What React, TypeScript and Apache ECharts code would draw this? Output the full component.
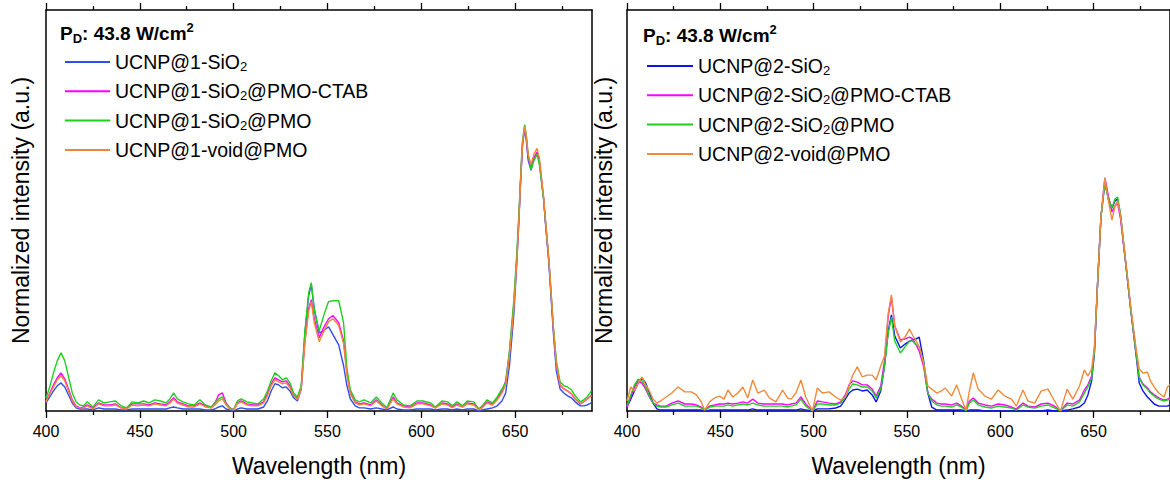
import React, { useEffect, useRef } from "react";
import * as echarts from "echarts";

const FONT = '"Liberation Sans", Arial, Helvetica, sans-serif';

// ---------- Left panel (UCNP@1) : wavelength grid (nm) ----------
const wl1 = [
  400, 402, 404, 406, 408, 410, 412, 414, 416, 418,
  420, 422, 425, 428, 431, 434, 437, 440, 443, 446,
  449, 452, 455, 458, 461, 464, 466, 468, 470, 473,
  476, 479, 482, 485, 488, 490, 492, 494, 496, 498,
  500, 502, 504, 507, 510, 513, 516, 518, 520, 522,
  524, 526, 528, 530, 532, 534, 536, 538, 540, 541.4,
  543, 545.6, 548, 550.6, 553, 556, 558.6, 560.4, 562.2, 564.8,
  567, 569.5, 573, 576, 579, 581.7, 585, 587, 590.5, 594,
  597.7, 601, 605, 607.5, 611, 614, 616.5, 619, 622, 624.5,
  628, 630.6, 632.5, 635, 638, 640.5, 643, 645, 647, 649.3,
  651, 652, 653.2, 654, 655.1, 656, 657, 658.5, 660, 661.7,
  663, 665.2, 666.1, 668, 670.4, 672, 674, 676, 678, 680,
  682, 684.8, 686.5, 688.4, 690.7,
];

// normalized intensity (% of the strongest peak)
const ucnp1SiO2 = [
  2.8, 4.9, 7.0, 8.8, 9.8, 8.4, 5.6, 2.8, 1.1, 0.7,
  0.7, 0.7, 0.4, 1.1, 0.7, 0.7, 0.7, 0.4, 0.4, 0.7,
  0.7, 0.7, 0.7, 0.7, 0.7, 0.7, 1.1, 1.4, 1.1, 0.7,
  0.7, 0.7, 0.7, 0.4, 0.4, 0.7, 1.4, 1.8, 0.7, 0.4,
  0.0, 0.7, 1.1, 0.7, 0.7, 0.7, 1.4, 3.5, 7.0, 9.5,
  9.1, 8.1, 8.4, 7.0, 4.6, 3.5, 7.7, 27.3, 40.3, 44.1,
  35.7, 27.3, 28.0, 29.4, 26.6, 23.1, 15.8, 8.8, 4.2, 1.8,
  1.1, 1.1, 0.7, 1.1, 0.7, 0.4, 1.4, 0.7, 0.4, 0.4,
  0.7, 0.7, 0.7, 0.4, 0.7, 0.7, 0.4, 0.7, 0.4, 0.7,
  0.7, 0.0, 0.4, 0.7, 1.1, 1.8, 3.5, 6.3, 15.8, 33.3,
  52.5, 65.8, 83.3, 92.8, 98.7, 94.5, 87.5, 84.0, 87.5, 90.3,
  86.8, 74.2, 66.5, 51.8, 27.3, 14.0, 7.7, 6.3, 5.3, 4.6,
  3.2, 1.8, 1.8, 2.1, 2.8,
];
const ucnp1SiO2PmoCtab = [
  3.5, 6.3, 9.1, 11.6, 13.3, 11.2, 7.7, 3.9, 1.8, 1.1,
  1.4, 2.1, 1.1, 2.8, 2.1, 2.1, 2.5, 1.1, 1.1, 2.5,
  2.5, 2.5, 2.1, 2.8, 2.5, 2.1, 3.2, 4.6, 3.2, 2.5,
  1.8, 1.8, 2.8, 1.8, 1.1, 2.8, 5.6, 6.3, 2.8, 1.1,
  0.4, 2.8, 3.5, 2.5, 2.1, 2.1, 3.2, 6.0, 9.5, 11.6,
  10.9, 10.2, 10.5, 8.8, 5.6, 4.2, 7.7, 24.5, 35.7, 38.9,
  32.2, 25.6, 29.1, 32.2, 33.3, 30.8, 24.5, 13.3, 6.3, 3.2,
  2.5, 2.8, 2.1, 3.9, 2.1, 0.7, 4.9, 2.8, 1.8, 1.4,
  2.8, 2.8, 2.1, 1.1, 2.8, 2.5, 1.4, 2.5, 1.4, 2.8,
  2.5, 0.7, 1.4, 3.2, 2.5, 4.2, 7.0, 10.5, 20.3, 36.8,
  54.3, 67.2, 84.0, 93.8, 98.7, 95.2, 88.2, 85.1, 88.2, 90.3,
  86.8, 74.2, 66.5, 52.5, 28.7, 16.1, 9.1, 7.7, 7.0, 6.0,
  4.2, 2.5, 3.2, 4.2, 5.6,
];
const ucnp1SiO2Pmo = [
  4.5, 8.4, 13.3, 17.5, 20.3, 17.5, 11.9, 6.3, 3.2, 2.1,
  1.8, 3.2, 1.4, 3.9, 2.8, 3.2, 3.5, 1.8, 1.1, 3.2,
  2.8, 3.5, 2.8, 3.9, 3.5, 2.8, 4.2, 6.3, 4.2, 3.2,
  2.5, 2.1, 3.9, 2.1, 1.4, 2.8, 4.2, 4.9, 2.5, 1.1,
  0.4, 3.5, 4.2, 3.2, 2.8, 2.5, 4.2, 7.0, 10.5, 13.3,
  12.3, 10.9, 11.6, 9.8, 6.3, 4.9, 8.8, 28.0, 41.3, 44.8,
  35.0, 28.0, 33.3, 38.2, 38.5, 38.5, 30.8, 14.7, 7.4, 3.9,
  3.2, 3.9, 2.8, 4.9, 2.8, 1.1, 6.3, 3.9, 2.1, 1.8,
  3.5, 3.5, 2.8, 1.4, 3.5, 3.2, 1.8, 3.2, 1.8, 3.5,
  3.2, 0.7, 1.8, 3.9, 2.8, 4.9, 7.7, 9.8, 21.0, 38.5,
  56.0, 68.3, 85.4, 94.5, 100, 96.2, 89.2, 84.3, 87.5, 89.6,
  85.8, 73.9, 66.9, 52.9, 29.4, 17.5, 10.2, 8.8, 8.4, 7.4,
  5.3, 3.2, 3.9, 4.9, 7.0,
];
const ucnp1VoidPmo = [
  3.2, 6.0, 8.4, 10.9, 12.3, 10.5, 7.0, 3.5, 1.4, 1.1,
  1.1, 1.8, 0.7, 2.5, 1.8, 1.8, 2.1, 1.1, 0.7, 2.1,
  1.8, 2.1, 1.8, 2.5, 2.1, 1.8, 2.8, 4.2, 2.8, 2.1,
  1.4, 1.4, 2.5, 1.4, 1.1, 2.1, 3.5, 4.2, 2.1, 0.7,
  0.4, 2.5, 3.2, 2.1, 1.8, 1.8, 2.8, 5.3, 8.8, 10.9,
  10.2, 9.5, 9.8, 8.1, 5.3, 3.9, 7.4, 23.8, 35.0, 38.2,
  30.8, 24.2, 27.7, 31.2, 32.2, 29.8, 23.5, 12.6, 6.0, 2.8,
  2.1, 2.5, 1.8, 3.5, 1.8, 0.7, 4.2, 2.5, 1.4, 1.1,
  2.5, 2.5, 1.8, 1.1, 2.5, 2.1, 1.1, 2.1, 1.4, 2.5,
  2.1, 0.4, 1.1, 2.8, 2.1, 3.9, 6.3, 9.1, 19.3, 35.7,
  53.2, 66.5, 84.0, 93.8, 99.4, 95.9, 89.6, 86.1, 89.6, 91.7,
  88.2, 74.9, 67.6, 53.2, 29.4, 16.5, 9.1, 7.7, 7.0, 6.0,
  4.2, 2.5, 3.2, 4.2, 5.3,
];

// ---------- Right panel (UCNP@2) : wavelength grid (nm) ----------
const wl2 = [
  400, 402, 404, 406, 408, 410, 412, 414, 416, 418,
  421, 424, 427.4, 431, 434.5, 437.2, 439.8, 441.6, 444.3, 446.9,
  449.6, 452, 454.1, 456.7, 459.4, 462.1, 464.7, 467.4, 470.1, 473.6,
  476.3, 479.8, 483.4, 486, 488, 490.5, 493.2, 495.8, 499.4, 502,
  504.7, 508.3, 511.8, 514.5, 517, 519, 521, 523.4, 526.1, 528.7,
  531.4, 533.5, 536, 538, 540, 541.7, 543.5, 546.5, 549, 551.4,
  553, 555, 556.6, 558.9, 560, 561.2, 563.3, 566, 568.5, 570.5,
  574, 576.7, 579.3, 581.7, 583.5, 585.6, 588.2, 591.8, 595.3, 598.9,
  602.5, 606, 608.7, 612.2, 614.9, 618.5, 622, 625.6, 629.1, 632.3,
  635.9, 638.9, 642.5, 645.1, 647, 649, 650.5, 652.2, 654, 656.1,
  658, 659.9, 661.5, 662.9, 664.5, 666.5, 668.3, 670, 672.7, 674.5,
  676.5, 678.9, 680.5, 682.5, 685, 687.8, 689.6, 691,
];
const ucnp2SiO2 = [
  1.7, 5.1, 8.6, 12.0, 14.2, 12.0, 7.7, 3.4, 0.9, 0.4,
  0.4, 0.4, 0.4, 0.4, 0.4, 0.4, 0.4, 0.0, 0.4, 0.4,
  0.4, 0.4, 0.4, 0.4, 0.4, 0.4, 0.4, 0.9, 0.4, 0.4,
  0.4, 0.4, 0.4, 0.4, 0.4, 0.4, 0.9, 0.4, 0.0, 0.9,
  0.9, 0.9, 1.3, 2.1, 5.1, 7.7, 9.0, 9.4, 8.6, 9.0,
  6.9, 3.9, 8.6, 19.3, 34.3, 41.2, 32.2, 27.0, 28.7, 30.0,
  30.5, 30.9, 31.7, 21.9, 15.0, 7.7, 1.7, 0.4, 0.4, 0.4,
  0.4, 0.4, 0.4, 0.0, 0.4, 0.4, 0.4, 0.0, 0.0, 0.0,
  0.0, 0.0, 0.0, 0.0, 0.0, 0.0, 0.0, 0.4, 0.0, 0.0,
  0.4, 0.9, 1.7, 3.4, 6.9, 12.9, 24.9, 54.9, 83.2, 97.8,
  90.9, 87.1, 90.1, 90.9, 83.7, 69.1, 55.8, 43.3, 24.9, 12.0,
  8.6, 6.0, 4.7, 3.0, 2.1, 2.1, 2.1, 2.6,
];
const ucnp2SiO2PmoCtab = [
  1.7, 6.0, 10.3, 12.9, 12.0, 9.4, 6.0, 3.4, 2.6, 2.1,
  2.1, 3.4, 4.3, 3.0, 3.0, 2.6, 1.7, 0.4, 2.1, 2.6,
  3.0, 3.0, 3.4, 3.0, 3.4, 3.9, 3.4, 5.1, 3.4, 3.0,
  3.0, 3.0, 3.0, 2.6, 3.0, 3.4, 6.0, 3.0, 0.0, 4.3,
  3.9, 3.4, 3.0, 3.9, 6.9, 11.2, 12.9, 12.4, 11.2, 11.2,
  9.4, 6.4, 10.7, 21.5, 40.8, 48.9, 36.5, 30.5, 30.9, 31.7,
  30.9, 28.3, 25.7, 19.3, 13.7, 7.7, 5.1, 3.4, 3.0, 3.0,
  2.6, 3.4, 2.1, 0.4, 4.3, 5.6, 3.4, 2.6, 2.1, 3.0,
  2.6, 1.7, 0.9, 3.4, 2.1, 1.7, 3.0, 3.4, 2.1, 0.0,
  3.4, 3.0, 4.7, 9.0, 11.2, 15.0, 26.6, 54.9, 83.2, 100,
  92.2, 85.4, 87.9, 89.2, 82.4, 68.6, 55.8, 43.3, 26.2, 14.6,
  11.6, 9.9, 8.2, 6.9, 5.6, 4.7, 5.1, 5.6,
];
const ucnp2SiO2Pmo = [
  2.1, 6.9, 11.2, 13.7, 12.9, 10.3, 6.4, 3.4, 2.1, 1.7,
  1.7, 2.6, 3.4, 2.1, 2.1, 2.1, 1.3, 0.4, 1.7, 2.1,
  2.1, 2.1, 2.6, 2.1, 2.6, 3.0, 2.6, 3.4, 2.6, 2.1,
  2.1, 2.1, 2.1, 1.7, 2.1, 2.6, 5.1, 2.1, 0.0, 3.0,
  3.0, 2.6, 2.6, 3.4, 6.0, 9.4, 11.6, 11.2, 10.3, 10.3,
  8.6, 5.6, 9.4, 19.3, 33.5, 40.3, 30.0, 24.9, 27.5, 30.0,
  30.0, 28.3, 27.5, 21.5, 14.2, 7.7, 4.3, 2.6, 2.1, 2.1,
  1.7, 2.6, 1.7, 0.0, 3.4, 4.7, 2.6, 1.7, 1.3, 2.1,
  1.7, 1.3, 0.4, 2.6, 1.7, 1.3, 2.1, 2.6, 1.3, 0.0,
  2.6, 2.1, 3.9, 7.7, 10.3, 14.2, 25.7, 54.9, 83.2, 97.8,
  90.9, 87.1, 90.9, 91.8, 84.5, 69.1, 55.8, 43.3, 25.7, 14.2,
  11.2, 9.4, 7.7, 6.4, 5.1, 4.3, 4.7, 5.1,
];
const ucnp2VoidPmo = [
  4.3, 10.3, 8.6, 12.0, 14.6, 11.2, 8.6, 5.1, 3.4, 4.3,
  6.0, 7.7, 10.3, 8.2, 8.2, 6.9, 3.9, 0.4, 3.9, 5.6,
  6.4, 5.1, 9.0, 6.0, 7.7, 10.3, 5.6, 13.3, 7.7, 9.0,
  5.6, 3.9, 9.0, 5.6, 5.1, 7.7, 13.3, 6.0, 0.0, 9.9,
  7.7, 8.2, 6.0, 4.7, 6.0, 10.7, 15.4, 18.9, 14.6, 15.4,
  15.4, 13.3, 19.3, 23.6, 42.0, 49.8, 36.5, 29.6, 31.7, 35.2,
  32.6, 30.0, 27.5, 20.6, 16.3, 10.7, 9.4, 7.7, 8.6, 9.9,
  6.4, 11.2, 5.1, 0.4, 8.6, 16.3, 9.4, 6.4, 5.1, 9.0,
  6.4, 5.1, 2.1, 9.0, 4.3, 3.4, 8.6, 9.4, 4.3, 0.0,
  9.4, 5.1, 10.7, 17.6, 15.0, 18.0, 27.5, 54.9, 83.2, 100,
  90.1, 81.9, 87.9, 90.1, 83.7, 69.9, 57.1, 44.6, 27.5, 18.0,
  16.3, 16.7, 12.9, 10.3, 7.7, 6.0, 10.3, 11.2,
];

const majorTicks = [400, 450, 500, 550, 600, 650];
const minorTicks = [425, 475, 525, 575, 625, 675];

const panel1Names = ["UCNP@1-SiO2", "UCNP@1-SiO2@PMO-CTAB", "UCNP@1-SiO2@PMO", "UCNP@1-void@PMO"];
const panel2Names = ["UCNP@2-SiO2", "UCNP@2-SiO2@PMO-CTAB", "UCNP@2-SiO2@PMO", "UCNP@2-void@PMO"];
const panel1Colors = ["#2f4cf5", "#ff00ff", "#1ed01e", "#f2843a"];
const panel2Colors = ["#0a14f0", "#ff00ff", "#22cc22", "#f08a3c"];

const zip = (xs: number[], ys: number[]) => xs.map((x, i) => [x, ys[i]]);

export default function App() {
  const ref = useRef<HTMLDivElement>(null);
  useEffect(() => {
    if (!ref.current) return;
    const chart = echarts.init(ref.current, undefined, { renderer: "svg" });

    const black = "#000";
    const grids = [
      { left: 46, top: 10, width: 546, height: 401 },
      { left: 627, top: 10, width: 546, height: 401 },
    ];
    const xAxes: any[] = [];
    const yAxes: any[] = [];
    const ymax = [140, 172];
    [0, 1].forEach((g) => {
      const base = { type: "value", gridIndex: g, min: 400, max: 691, splitLine: { show: false } };
      xAxes.push({
        ...base,
        position: "bottom",
        axisLine: { show: true, onZero: false, lineStyle: { color: black, width: 1.5 } },
        axisTick: { show: true, inside: false, length: 7, customValues: majorTicks, lineStyle: { color: black, width: 1.3 } },
        axisLabel: { show: true, customValues: majorTicks, fontSize: 16, color: black, margin: 12, fontFamily: FONT },
        name: "Wavelength (nm)",
        nameLocation: "middle",
        nameGap: 43,
        nameTextStyle: { fontSize: 23, color: black, fontFamily: FONT },
      });
      xAxes.push({
        ...base,
        position: "bottom",
        axisLine: { show: false, onZero: false },
        axisTick: { show: true, inside: false, length: 4, customValues: minorTicks, lineStyle: { color: black, width: 1.3 } },
        axisLabel: { show: false },
      });
      xAxes.push({
        ...base,
        position: "top",
        axisLine: { show: true, onZero: false, lineStyle: { color: black, width: 1.5 } },
        axisTick: { show: true, inside: false, length: 7, customValues: majorTicks, lineStyle: { color: black, width: 1.3 } },
        axisLabel: { show: false },
      });
      xAxes.push({
        ...base,
        position: "top",
        axisLine: { show: false, onZero: false },
        axisTick: { show: true, inside: false, length: 4, customValues: minorTicks, lineStyle: { color: black, width: 1.3 } },
        axisLabel: { show: false },
      });
      yAxes.push({
        type: "value",
        gridIndex: g,
        min: 0,
        max: ymax[g],
        position: "left",
        axisLine: { show: true, onZero: false, lineStyle: { color: black, width: 1.5 } },
        axisTick: { show: false },
        axisLabel: { show: false },
        splitLine: { show: false },
        name: "Normalized intensity (a.u.)",
        nameLocation: "middle",
        nameGap: g === 0 ? 14 : 12,
        nameTextStyle: { fontSize: 23, color: black, fontFamily: FONT },
      });
      yAxes.push({
        type: "value",
        gridIndex: g,
        min: 0,
        max: ymax[g],
        position: "right",
        axisLine: { show: true, onZero: false, lineStyle: { color: black, width: 1.5 } },
        axisTick: { show: false },
        axisLabel: { show: false },
        splitLine: { show: false },
      });
    });

    const mk = (name: string, color: string, xs: number[], ys: number[], g: number) => ({
      type: "line",
      name,
      color,
      xAxisIndex: g * 4,
      yAxisIndex: g * 2,
      data: zip(xs, ys),
      showSymbol: false,
      symbol: "none",
      lineStyle: { color, width: 1.4 },
      clip: true,
    });

    const series = [
      mk(panel1Names[0], panel1Colors[0], wl1, ucnp1SiO2, 0),
      mk(panel1Names[1], panel1Colors[1], wl1, ucnp1SiO2PmoCtab, 0),
      mk(panel1Names[2], panel1Colors[2], wl1, ucnp1SiO2Pmo, 0),
      mk(panel1Names[3], panel1Colors[3], wl1, ucnp1VoidPmo, 0),
      mk(panel2Names[0], panel2Colors[0], wl2, ucnp2SiO2, 1),
      mk(panel2Names[1], panel2Colors[1], wl2, ucnp2SiO2PmoCtab, 1),
      mk(panel2Names[2], panel2Colors[2], wl2, ucnp2SiO2Pmo, 1),
      mk(panel2Names[3], panel2Colors[3], wl2, ucnp2VoidPmo, 1),
    ];

    const legendRich = {
      s: { fontSize: 13, lineHeight: 12, verticalAlign: "bottom", fontFamily: FONT, color: black },
    };
    const fmt = (name: string) => name.replace(/SiO2/g, "SiO{s|2}");
    const legendBase = {
      orient: "vertical",
      icon: "rect",
      itemHeight: 2,
      itemGap: 7.3,
      selectedMode: false,
      formatter: fmt,
      textStyle: { fontSize: 19.5, lineHeight: 22, color: black, fontFamily: FONT, rich: legendRich },
    };

    const pdRich = {
      b: { fontSize: 19, fontWeight: "bold", lineHeight: 24, fontFamily: FONT, color: black },
      d: { fontSize: 13, fontWeight: "bold", lineHeight: 12, verticalAlign: "bottom", fontFamily: FONT, color: black },
      p: { fontSize: 13, fontWeight: "bold", lineHeight: 12, verticalAlign: "top", fontFamily: FONT, color: black },
    };
    const pdText = "{b|P}{d|D}{b|: 43.8 W/cm}{p|2}";

    chart.setOption({
      animation: false,
      backgroundColor: "#fff",
      textStyle: { fontFamily: FONT },
      grid: grids,
      xAxis: xAxes,
      yAxis: yAxes,
      legend: [
        { ...legendBase, left: 60, top: 46, itemWidth: 45, data: panel1Names },
        { ...legendBase, left: 642, top: 50, itemWidth: 46, data: panel2Names },
      ],
      graphic: [
        { type: "text", left: 60, top: 21, style: { text: pdText, rich: pdRich, fill: black } },
        { type: "text", left: 643, top: 23, style: { text: pdText, rich: pdRich, fill: black } },
      ],
      series,
    });

    return () => chart.dispose();
  }, []);

  return (
    <div
      ref={ref}
      style={{ position: "absolute", left: 0, top: 0, width: 1170, height: 482, background: "#fff" }}
    />
  );
}
